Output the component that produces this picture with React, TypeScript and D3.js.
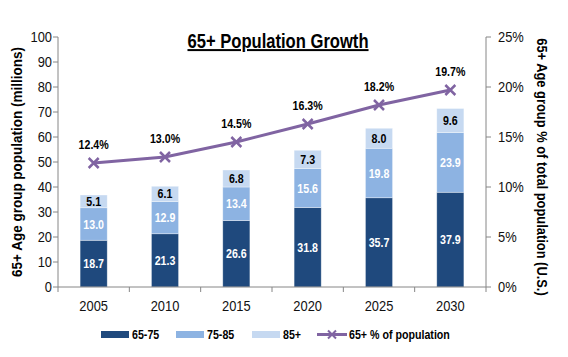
import React from "react";
import * as d3 from "d3";

const years = ["2005", "2010", "2015", "2020", "2025", "2030"];
const age6575 = [18.7, 21.3, 26.6, 31.8, 35.7, 37.9];
const age7585 = [13.0, 12.9, 13.4, 15.6, 19.8, 23.9];
const age85 = [5.1, 6.1, 6.8, 7.3, 8.0, 9.6];
const pctPop = [12.4, 13.0, 14.5, 16.3, 18.2, 19.7];
const leftTicks = [0, 10, 20, 30, 40, 50, 60, 70, 80, 90, 100];
const rightTicks = [0, 5, 10, 15, 20, 25];

const FONT = "'Liberation Sans', Arial, sans-serif";
const C1 = "#1F497D";
const C2 = "#8DB3E2";
const C3 = "#C6D9F1";
const LINE = "#8064A2";
const AXIS = "#868686";

type TProps = {
  x: number; y: number; size: number; bold?: boolean; sx?: number; anchor?: string;
  fill?: string; rotate?: number; underline?: boolean; children: React.ReactNode;
};
function T({ x, y, size, bold, sx = 0.82, anchor = "start", fill = "#000", rotate = 0, underline, children }: TProps) {
  return (
    <text
      transform={`translate(${x},${y}) rotate(${rotate}) scale(${sx},1)`}
      textAnchor={anchor}
      fontSize={size}
      fontWeight={bold ? "bold" : "normal"}
      fill={fill}
      textDecoration={underline ? "underline" : undefined}
    >
      {children}
    </text>
  );
}

export default function App() {
  const W = 568, H = 357;
  const left = 58, right = 486, top = 37, bottom = 287;
  const x = d3.scaleBand<string>().domain(years).range([left, right]).paddingInner(0.62).paddingOuter(0.31);
  const yL = d3.scaleLinear().domain([0, 100]).range([bottom, top]);
  const yR = d3.scaleLinear().domain([0, 25]).range([bottom, top]);
  const step = (right - left) / years.length;
  const bw = x.bandwidth();

  const series = [
    { vals: age6575, color: C1, text: "#fff" },
    { vals: age7585, color: C2, text: "#fff" },
    { vals: age85, color: C3, text: "#000" },
  ];

  const line = d3.line<number>()
    .x((_, i) => (x(years[i]) as number) + bw / 2)
    .y((d) => yR(d));

  const legend = [
    { label: "65-75", color: C1, x: 101 },
    { label: "75-85", color: C2, x: 176 },
    { label: "85+", color: C3, x: 252 },
  ];

  return (
    <svg width={W} height={H} style={{ position: "absolute", left: 0, top: 0 }} fontFamily={FONT}>
      <rect width={W} height={H} fill="#fff" />
      <T x={278} y={48} size={20} bold anchor="middle" sx={0.83} underline>65+ Population Growth</T>

      {years.map((yr, i) => {
        let acc = 0;
        return (
          <g key={yr}>
            {series.map((s, k) => {
              const v = s.vals[i];
              const y0 = yL(acc);
              const y1 = yL(acc + v);
              acc += v;
              const xx = x(yr) as number;
              return (
                <g key={k}>
                  <rect x={xx} y={y1} width={bw} height={y0 - y1} fill={s.color} stroke="#ffffff" strokeOpacity={0.5} strokeWidth={0.7} />
                  <T x={xx + bw / 2} y={(y0 + y1) / 2 + 4.5} size={13} bold anchor="middle" fill={s.text}>
                    {v.toFixed(1)}
                  </T>
                </g>
              );
            })}
          </g>
        );
      })}

      <line x1={left} x2={left} y1={top} y2={bottom} stroke={AXIS} />
      {leftTicks.map((t) => (
        <g key={t}>
          <line x1={left - 5} x2={left} y1={yL(t)} y2={yL(t)} stroke={AXIS} />
          <T x={left - 6} y={yL(t) + 5} size={15} sx={0.86} anchor="end" fill="#111">{t}</T>
        </g>
      ))}
      <line x1={right} x2={right} y1={top} y2={bottom} stroke={AXIS} />
      {rightTicks.map((t) => (
        <g key={t}>
          <line x1={right} x2={right + 5} y1={yR(t)} y2={yR(t)} stroke={AXIS} />
          <T x={right + 12} y={yR(t) + 5} size={15} sx={0.86} fill="#111">{t}%</T>
        </g>
      ))}
      <line x1={left} x2={right} y1={bottom} y2={bottom} stroke={AXIS} />
      {d3.range(years.length + 1).map((i) => (
        <line key={i} x1={left + i * step} x2={left + i * step} y1={bottom} y2={bottom + 5} stroke={AXIS} />
      ))}
      {years.map((yr) => (
        <T key={yr} x={(x(yr) as number) + bw / 2} y={311} size={15} sx={0.86} anchor="middle" fill="#111">{yr}</T>
      ))}

      <T x={22} y={162} rotate={-90} size={15} sx={0.9} bold anchor="middle">65+ Age group population (millions)</T>
      <T x={537} y={167} rotate={90} size={15} sx={0.86} bold anchor="middle">65+ Age group % of total population (U.S.)</T>

      <path d={line(pctPop) || ""} fill="none" stroke={LINE} strokeWidth={3} />
      {pctPop.map((p, i) => {
        const cx = (x(years[i]) as number) + bw / 2;
        const cy = yR(p);
        return (
          <g key={i}>
            <path d={`M${cx - 5},${cy - 5}L${cx + 5},${cy + 5}M${cx - 5},${cy + 5}L${cx + 5},${cy - 5}`} stroke={LINE} strokeWidth={2.5} />
            <T x={cx} y={cy - 14} size={13} bold anchor="middle">{p.toFixed(1)}%</T>
          </g>
        );
      })}

      {legend.map((l) => (
        <g key={l.label}>
          <rect x={l.x} y={331} width={28} height={7} fill={l.color} />
          <T x={l.x + 31} y={339} size={13} bold>{l.label}</T>
        </g>
      ))}
      <line x1={317} x2={347} y1={334.5} y2={334.5} stroke={LINE} strokeWidth={3} />
      <path d="M328,330.5L336,338.5M328,338.5L336,330.5" stroke={LINE} strokeWidth={2} />
      <T x={349} y={339} size={13} bold>65+ % of population</T>
    </svg>
  );
}
